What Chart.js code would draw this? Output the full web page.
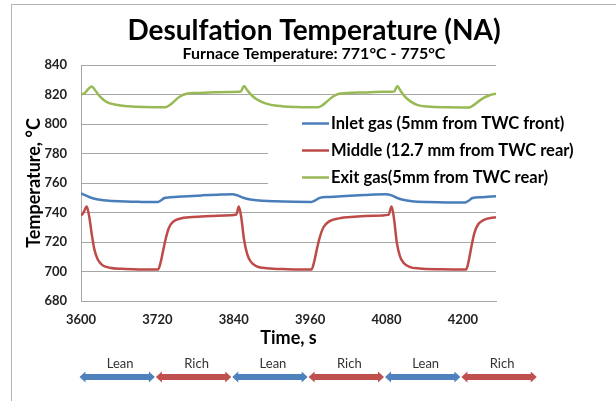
<!DOCTYPE html>
<html>
<head>
<meta charset="utf-8">
<script src="https://cdn.jsdelivr.net/npm/chart.js@4.4.0/dist/chart.umd.min.js"></script>
<style>
  html, body { margin: 0; padding: 0; background: #fff; }
  #wrap { position: relative; width: 616px; height: 401px; overflow: hidden; }
  #frame { position: absolute; left: 11px; top: 4px; right: -10px; bottom: -10px;
           border-left: 1px solid #b4b4b4; border-top: 1px solid #b4b4b4; }
  canvas { position: absolute; left: 0; top: 0; }
</style>
</head>
<body>
<div id="wrap">
  <div id="frame"></div>
  <canvas id="c" width="616" height="401"></canvas>
</div>
<script>
// Thermocouple readings during lean/rich cycling (time in s, temperature in °C)
const inletTime = [3600, 3608, 3616, 3625, 3635, 3650, 3670, 3695, 3720, 3725,
  3731, 3740, 3760, 3790, 3815, 3838, 3846, 3855, 3866, 3880,
  3905, 3935, 3962, 3968, 3975, 3990, 4015, 4045, 4078, 4088,
  4096, 4106, 4120, 4145, 4175, 4204, 4209, 4215, 4230, 4252];
const inletTemp = [753, 751.5, 750, 749, 748.3, 747.8, 747.4, 747.2, 747.1, 748,
  749.8, 750.3, 750.9, 751.6, 752.1, 752.4, 751.6, 750, 748.8, 748.1,
  747.6, 747.3, 747.2, 748.2, 749.9, 750.5, 751.2, 751.8, 752.3, 751.6,
  750, 748.6, 747.7, 747.1, 746.8, 746.8, 748, 749.8, 750.4, 751];

const middleTime = [3600, 3604, 3609, 3613, 3617, 3621, 3626, 3633, 3645, 3665,
  3695, 3721, 3725, 3729, 3733, 3738, 3744, 3755, 3775, 3805,
  3835, 3844, 3848, 3852, 3856, 3861, 3867, 3876, 3892, 3925,
  3962, 3966, 3970, 3975, 3981, 3990, 4005, 4030, 4060, 4083,
  4088, 4092, 4096, 4101, 4107, 4116, 4132, 4165, 4205, 4209,
  4213, 4218, 4224, 4233, 4252];
const middleTemp = [738, 740, 744, 737, 725, 715, 708.5, 704.5, 702.6, 701.8,
  701.4, 701.3, 706, 714, 722, 729.5, 733.5, 735.8, 736.9, 737.6,
  738.2, 738.6, 744, 736, 722, 712, 706.5, 703.5, 702.2, 701.6,
  701.3, 706, 714, 723, 730, 734, 736, 737.1, 737.8, 738.4,
  744, 735, 720, 710.5, 705.8, 703.2, 702, 701.5, 701.3, 707,
  716, 726, 732, 735, 736.8];

const exitTime = [3600, 3606, 3612, 3617, 3622, 3630, 3640, 3655, 3675, 3700,
  3732, 3740, 3748, 3756, 3766, 3780, 3800, 3830, 3851, 3856,
  3861, 3868, 3877, 3890, 3908, 3940, 3972, 3979, 3987, 3995,
  4004, 4018, 4045, 4075, 4092, 4097, 4102, 4109, 4117, 4128,
  4145, 4175, 4210, 4217, 4225, 4234, 4244, 4252];
const exitTemp = [820, 821, 824, 825.5, 823, 818.5, 815, 813, 812, 811.5,
  811.3, 813, 816, 818.8, 820.5, 821, 821.3, 821.7, 822, 825.8,
  823, 819.5, 816.5, 814, 812.3, 811.5, 811.3, 812.6, 815.5, 818.3,
  820.3, 821, 821.4, 821.8, 822, 825.8, 822.5, 818.5, 815.5, 813,
  811.8, 811.3, 811.2, 812.8, 815.5, 818, 819.8, 820.5];

const seriesNames = ['Inlet gas (5mm from TWC front)', 'Middle (12.7 mm from TWC rear)', 'Exit gas(5mm from TWC rear)'];
const seriesColors = ['#4a7ebb', '#be4b48', '#98b954'];

const xTickValues = [3600, 3720, 3840, 3960, 4080, 4200];

// Lean / rich phases shown under the time axis
const phaseLabels = ['Lean', 'Rich', 'Lean', 'Rich', 'Lean', 'Rich'];
const phaseStart = [3600, 3720, 3840, 3960, 4080, 4200];
const phaseEnd = [3720, 3840, 3960, 4080, 4200, 4320];
const phaseColors = { Lean: '#4f81bd', Rich: '#c0504d' };

const FONT = 'Lato, "Open Sans", sans-serif';
const pts = (t, v) => t.map((x, i) => ({ x: x, y: v[i] }));

const legendBox = {
  id: 'legendBox',
  afterDraw(chart) {
    const ctx = chart.ctx;
    const a = chart.chartArea;
    ctx.save();
    ctx.fillStyle = '#fff';
    ctx.fillRect(268, 110, a.right - 268 + 2, 82);
    ctx.font = 'bold 16.5px ' + FONT;
    ctx.textBaseline = 'middle';
    ctx.textAlign = 'left';
    const rows = [123.5, 150.5, 177.5];
    seriesNames.forEach((name, i) => {
      ctx.strokeStyle = seriesColors[i];
      ctx.lineWidth = 2.5;
      ctx.beginPath();
      ctx.moveTo(302, rows[i]);
      ctx.lineTo(329, rows[i]);
      ctx.stroke();
      ctx.fillStyle = '#000';
      ctx.fillText(name, 331, rows[i]);
    });
    ctx.restore();
  }
};

const phaseArrows = {
  id: 'phaseArrows',
  afterDraw(chart) {
    const ctx = chart.ctx;
    const xs = chart.scales.x;
    const yc = 377, st = 3, hh = 5.5, hl = 6;
    ctx.save();
    phaseLabels.forEach((lab, i) => {
      const x1 = xs.getPixelForValue(phaseStart[i]) - 1.5;
      const x2 = xs.getPixelForValue(phaseEnd[i]) - 2.5;
      ctx.fillStyle = phaseColors[lab];
      ctx.beginPath();
      ctx.moveTo(x1, yc);
      ctx.lineTo(x1 + hl, yc - hh);
      ctx.lineTo(x1 + hl, yc - st);
      ctx.lineTo(x2 - hl, yc - st);
      ctx.lineTo(x2 - hl, yc - hh);
      ctx.lineTo(x2, yc);
      ctx.lineTo(x2 - hl, yc + hh);
      ctx.lineTo(x2 - hl, yc + st);
      ctx.lineTo(x1 + hl, yc + st);
      ctx.lineTo(x1 + hl, yc + hh);
      ctx.closePath();
      ctx.fill();
      ctx.fillStyle = '#333';
      ctx.font = '13px ' + FONT;
      ctx.textAlign = 'center';
      ctx.textBaseline = 'middle';
      ctx.fillText(lab, (x1 + x2) / 2 + 3, 364);
    });
    ctx.restore();
  }
};

const mk = (i, t, v) => ({
  label: seriesNames[i],
  data: pts(t, v),
  borderColor: seriesColors[i],
  backgroundColor: seriesColors[i],
  borderWidth: 2.5,
  pointRadius: 0,
  fill: false,
  cubicInterpolationMode: 'monotone'
});

new Chart(document.getElementById('c'), {
  type: 'line',
  data: {
    datasets: [
      mk(0, inletTime, inletTemp),
      mk(1, middleTime, middleTemp),
      mk(2, exitTime, exitTemp)
    ]
  },
  options: {
    responsive: false,
    animation: false,
    layout: { padding: { left: 12, top: 0, right: 0, bottom: 0 } },
    plugins: {
      legend: { display: false },
      tooltip: { enabled: false },
      title: {
        display: true,
        text: 'Desulfation Temperature (NA)',
        color: '#000',
        font: { family: FONT, size: 28, weight: 'bold', lineHeight: 1 },
        padding: { top: 17, bottom: 0 }
      },
      subtitle: {
        display: true,
        text: 'Furnace Temperature: 771°C - 775°C',
        color: '#000',
        font: { family: FONT, size: 16, weight: 'bold', lineHeight: 1 },
        padding: { top: 1, bottom: 3 }
      }
    },
    scales: {
      x: {
        type: 'linear',
        min: 3600,
        max: 4252,
        afterBuildTicks: s => { s.ticks = xTickValues.map(v => ({ value: v })); },
        afterFit: s => { s.height = 100; },
        grid: { display: false, drawTicks: false },
        border: { display: true, color: '#a6a6a6', width: 1 },
        ticks: {
          padding: 11, maxRotation: 0, color: '#222',
          font: { family: FONT, size: 13, weight: 'bold' },
          callback: v => String(v)
        },
        title: {
          display: true, text: 'Time, s', color: '#000',
          font: { family: FONT, size: 18, weight: 'bold', lineHeight: 1.2 },
          padding: { top: 0, bottom: 52 }
        }
      },
      y: {
        min: 680,
        max: 840,
        afterFit: s => { s.width = 69; },
        grid: { color: '#a6a6a6', drawTicks: false },
        border: { display: true, color: '#a6a6a6', width: 1 },
        ticks: { stepSize: 20, padding: 14, color: '#222', font: { family: FONT, size: 13, weight: 'bold' } },
        title: {
          display: true, text: 'Temperature, °C', color: '#000',
          font: { family: FONT, size: 18, weight: 'bold', lineHeight: 1.2 },
          padding: { top: 11, bottom: 0 }
        }
      },
      pad: {
        position: 'right',
        display: true,
        afterFit: s => { s.width = 120; },
        grid: { display: false, drawTicks: false },
        border: { display: false },
        ticks: { display: false }
      }
    }
  },
  plugins: [legendBox, phaseArrows]
});
</script>
</body>
</html>
